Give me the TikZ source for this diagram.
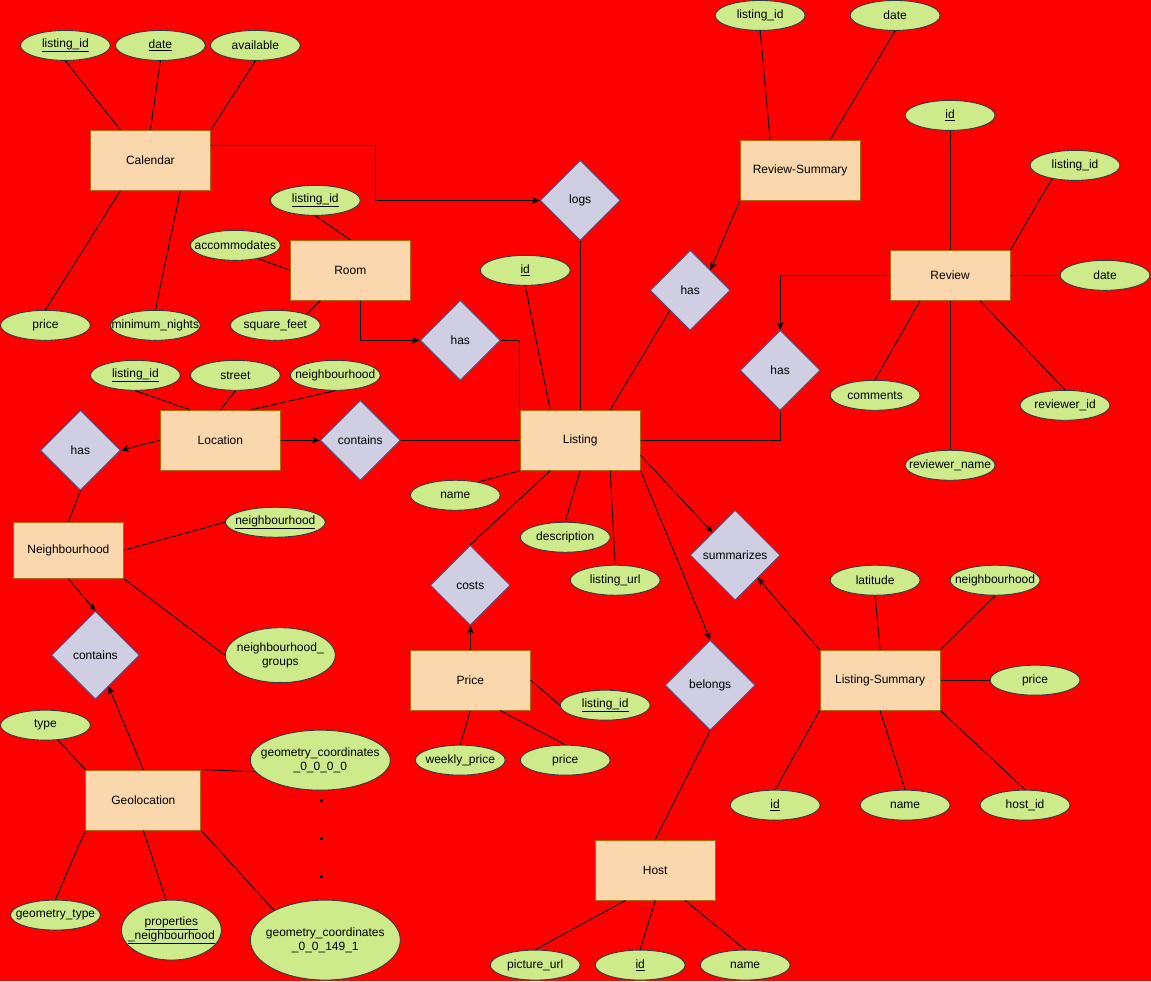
\documentclass[tikz,border=0pt]{standalone}
\usepackage{fontspec}
\setmainfont{Liberation Sans}
\usetikzlibrary{arrows.meta,shapes.geometric}
\definecolor{bgred}{HTML}{FF0000}
\definecolor{entfill}{HTML}{FAD7AC}
\definecolor{entline}{HTML}{B46504}
\definecolor{attfill}{HTML}{CDEB8B}
\definecolor{attline}{HTML}{36393D}
\definecolor{relfill}{HTML}{D0CEE2}
\definecolor{relline}{HTML}{56517E}
\tikzset{
>={Stealth[length=8pt,width=7pt]}, % filled arrow heads
every path/.style={line width=0.9pt}, % thin black connectors
every node/.style={font=\fontsize{12}{14}\selectfont,align=center},
}
\newcommand\hkey[1]{\underline{#1}}

\begin{document}
\begin{tikzpicture}[x=1pt,y=-1pt,
   entity/.style={rectangle, draw=entline, fill=entfill, minimum width=120pt, minimum height=60pt, inner sep=0pt},
   attr/.style={ellipse, draw=attline, fill=attfill, minimum width=90pt, minimum height=30pt, inner xsep=-15pt, inner ysep=0pt},
   rel/.style={diamond, aspect=1, draw=relline, fill=relfill, minimum size=80pt, inner sep=0pt}]
   \fill[bgred] (0,0) rectangle (1151,981);
   % entities
   \node[entity] (cal) at (150,160) {Calendar};
   \node[entity] (room) at (350,270) {Room};
   \node[entity] (loc) at (220,440) {Location};
   \node[entity, minimum width=110pt, minimum height=56pt] (nbh) at (68,550) {Neighbourhood};
   \node[entity, minimum width=115pt] (geo) at (143,800) {Geolocation};
   \node[entity] (lst) at (580,440) {Listing};
   \node[entity] (price) at (470,680) {Price};
   \node[entity] (host) at (655,870) {Host};
   \node[entity] (lsum) at (880,680) {Listing-Summary};
   \node[entity] (rsum) at (800,170) {Review-Summary};
   \node[entity, minimum height=50pt] (rev) at (950,275) {Review};
   % relationships
   \node[rel] (logs) at (580,200) {logs};
   \node[rel] (hasroom) at (460,340) {has};
   \node[rel] (hasrsum) at (690,290) {has};
   \node[rel] (hasrev) at (780,370) {has};
   \node[rel] (contloc) at (360,440) {contains};
   \node[rel] (hasloc) at (80,450) {has};
   \node[rel, minimum size=88pt] (contgeo) at (95,655) {contains};
   \node[rel] (costs) at (470,585) {costs};
   \node[rel, minimum size=90pt] (summ) at (735,555) {summarizes};
   \node[rel, minimum size=90pt] (belongs) at (710,685) {belongs};
   % attributes
   \node[attr] (cal-lid) at (65,45) {\hkey{listing\_id}};
   \node[attr] (cal-date) at (160,45) {\hkey{date}};
   \node[attr] (cal-avail) at (255,45) {available};
   \node[attr] (cal-price) at (45,325) {price};
   \node[attr] (cal-min) at (155,325) {minimum\_nights};
   \node[attr] (room-lid) at (315,200) {\hkey{listing\_id}};
   \node[attr] (room-acc) at (235,245) {accommodates};
   \node[attr] (room-sqft) at (275,325) {square\_feet};
   \node[attr] (loc-lid) at (135,375) {\hkey{listing\_id}};
   \node[attr] (loc-street) at (235,375) {street};
   \node[attr] (loc-nbh) at (335,375) {neighbourhood};
   \node[attr, minimum width=100pt] (nbh-nbh) at (275,522) {\hkey{neighbourhood}};
   \node[attr, minimum width=110pt, minimum height=55pt] (nbh-grp) at (280,655) {neighbourhood\_\\groups};
   \node[attr] (geo-type) at (45,725) {type};
   \node[attr, minimum width=140pt, minimum height=60pt] (geo-c0) at (320,760) {geometry\_coordinates\\\_0\_0\_0\_0};
   \node[attr] (geo-gtype) at (55,915) {geometry\_type};
   \node[attr, minimum width=100pt, minimum height=60pt] (geo-prop) at (171,930) {\hkey{properties}\\\hkey{\_neighbourhood}};
   \node[attr, minimum width=150pt, minimum height=80pt] (geo-c1) at (325,940) {geometry\_coordinates\\\_0\_0\_149\_1};
   \node[attr] (lst-id) at (525,270) {\hkey{id}};
   \node[attr] (lst-name) at (455,495) {name};
   \node[attr] (lst-desc) at (565,537) {description};
   \node[attr] (lst-url) at (615,580) {listing\_url};
   \node[attr] (price-lid) at (605,705) {\hkey{listing\_id}};
   \node[attr] (price-wk) at (460,760) {weekly\_price};
   \node[attr] (price-pr) at (565,760) {price};
   \node[attr] (rsum-lid) at (760,15) {listing\_id};
   \node[attr] (rsum-date) at (895,15) {date};
   \node[attr] (rev-id) at (950,115) {\hkey{id}};
   \node[attr] (rev-lid) at (1075,165) {listing\_id};
   \node[attr] (rev-date) at (1105,275) {date};
   \node[attr] (rev-com) at (875,395) {comments};
   \node[attr] (rev-rid) at (1065,405) {reviewer\_id};
   \node[attr] (rev-rname) at (950,465) {reviewer\_name};
   \node[attr] (lsum-lat) at (875,580) {latitude};
   \node[attr] (lsum-nbh) at (995,580) {neighbourhood};
   \node[attr] (lsum-price) at (1035,680) {price};
   \node[attr] (lsum-id) at (775,805) {\hkey{id}};
   \node[attr] (lsum-name) at (905,805) {name};
   \node[attr] (lsum-host) at (1025,805) {host\_id};
   \node[attr] (host-pic) at (535,965) {picture\_url};
   \node[attr] (host-id) at (640,965) {\hkey{id}};
   \node[attr] (host-name) at (745,965) {name};
   % dots between the coordinate ellipses
   \foreach \y in {800,838,876}
      \fill (319.5,\y-1.5) rectangle ++(3,3);
   % attribute lines
   \path
    (cal-lid.south) edge ([xshift=-30pt]cal.north)
    (cal-date.south) edge (cal.north)
    (cal-avail.south) edge (cal.north east)
    (cal-price.north) edge ([xshift=-30pt]cal.south)
    (cal-min.north) edge ([xshift=30pt]cal.south)
    (room-lid.south) edge (room.north)
    (room-acc.-30) edge (room.west)
    (room-sqft.20) edge ([xshift=-30pt]room.south)
    (loc-lid.south) edge ([xshift=-30pt]loc.north)
    (loc-street.south) edge (loc.north)
    (loc-nbh.south) edge ([xshift=30pt]loc.north)
    (hasloc.south) edge (nbh.north)
    (nbh.east) edge (nbh-nbh.west)
    (nbh.south east) edge (nbh-grp.west)
    (geo-type.-50) edge (geo.north west)
    (geo.north east) edge (geo-c0.-170)
    (geo.south west) edge (geo-gtype.north)
    (geo.south) edge (geo-prop.100)
    (geo.south east) edge (geo-c1.150)
    (contloc.east) edge (lst.west)
    (lst-id.south) edge ([xshift=-30pt]lst.north)
    (logs.south) edge (lst.north)
    (hasrsum.south west) edge ([xshift=30pt]lst.north)
    (lst-name.30) edge (lst.south west)
    (costs.north) edge ([xshift=-30pt]lst.south)
    (lst-desc.north) edge (lst.south)
    (lst-url.north) edge ([xshift=30pt]lst.south)
    (price.east) edge (price-lid.west)
    (price-wk.north) edge (price.south)
    (price-pr.north) edge ([xshift=30pt]price.south)
    (belongs.south) edge (host.north)
    (host-pic.north) edge ([xshift=-30pt]host.south)
    (host-id.north) edge (host.south)
    (host-name.north) edge ([xshift=30pt]host.south)
    (lsum-lat.south) edge (lsum.north)
    (lsum-nbh.south) edge (lsum.north east)
    (lsum.east) edge (lsum-price.west)
    (lsum.south west) edge (lsum-id.north)
    (lsum.south) edge (lsum-name.north)
    (lsum.south east) edge (lsum-host.north)
    (rsum-lid.south) edge ([xshift=-30pt]rsum.north)
    (rsum-date.south) edge ([xshift=30pt]rsum.north)
    (rev-id.south) edge (rev.north)
    (rev-lid.-150) edge (rev.north east)
    (rev.east) edge (rev-date.west)
    ([xshift=-30pt]rev.south) edge (rev-com.north)
    (rev.south) edge (rev-rname.north)
    ([xshift=30pt]rev.south) edge (rev-rid.north);
   % relationship arrows
   \path[->]
    (loc.west) edge (hasloc.east)
    (loc.east) edge (contloc.west)
    (nbh.south) edge (contgeo.north)
    (geo.north) edge (contgeo)
    (price.north) edge (costs.south)
    ([yshift=-15pt]lst.east) edge (summ.north west)
    (lst.south east) edge (belongs.north)
    (lsum.north west) edge (summ.south east)
    (rsum.south west) edge (hasrsum.north east);
   % bent connectors
   \draw[->] ([yshift=15pt]cal.east) -- ++(165,0) |- (logs.west);
   \draw[->] ([xshift=10pt]room.south) |- (hasroom.west);
   \draw (hasroom.east) -| (lst.north west);
   \draw (lst.east) -| (hasrev.south);
   \draw[->] (rev.west) -| (hasrev.north);
\end{tikzpicture}
\end{document}
